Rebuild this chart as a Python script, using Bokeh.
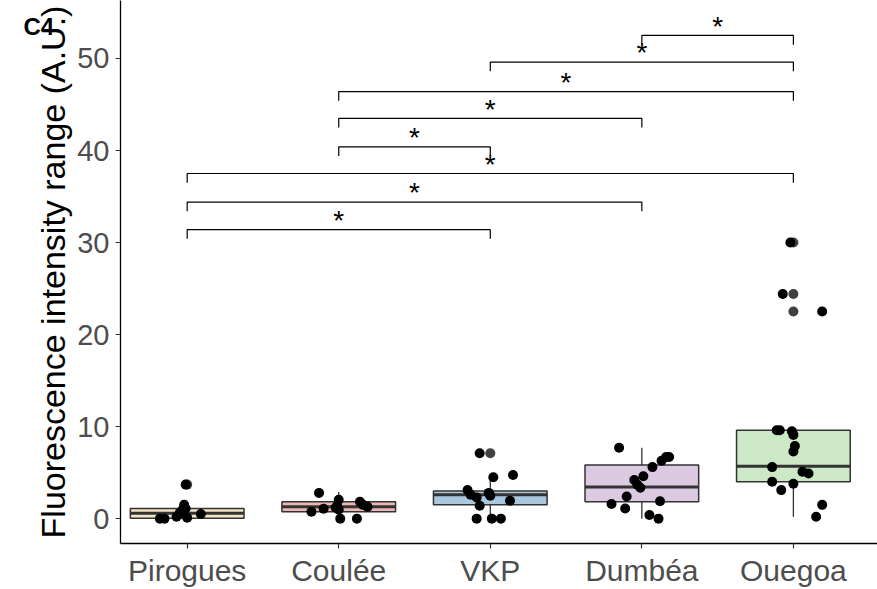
from bokeh.plotting import figure
from bokeh.models import Range1d, FixedTicker, Label
from bokeh.core.properties import value
from bokeh.embed import file_html
from bokeh.resources import INLINE

# ---- data ----
groups = ["Pirogues", "Coulée", "VKP", "Dumbéa", "Ouegoa"]
group_pos = [1, 2, 3, 4, 5]
fills = ["#F3E5C3", "#EBB8B3", "#A9C8E0", "#DCC9E2", "#CDE8C6"]

q1 = [0.05, 0.76, 1.5, 1.83, 4.0]
median = [0.6, 1.3, 2.6, 3.45, 5.7]
q3 = [1.1, 1.84, 3.0, 5.83, 9.6]
whisk_lo = [0.0, 0.0, 0.0, 0.0, 0.2]
whisk_hi = [1.3, 2.9, 4.75, 7.7, 9.7]

# outliers (group position, value)
out_x = [1, 3, 5, 5, 5]
out_y = [3.7, 7.1, 30.0, 24.4, 22.5]

# jittered observations
pts_x = [0.99, 0.82, 0.85, 0.93, 0.95, 0.98, 0.99, 1.0, 1.09, 0.97,
         1.87, 1.82, 1.90, 2.0, 1.99, 2.0, 2.01, 2.12, 2.14, 2.16, 2.19, 1.98,
         2.93, 3.02, 3.15, 2.85, 2.87, 2.91, 2.93, 2.99, 3.0, 3.13, 2.91, 3.01, 3.07,
         3.85, 3.80, 3.89, 3.90, 3.95, 3.97, 3.99, 4.01, 4.07, 4.13, 4.16, 4.18, 4.12, 4.05, 4.11,
         4.98, 4.93, 5.19, 4.89, 4.91, 4.99, 5.0, 5.01, 5.0, 4.86, 5.06, 5.10, 4.86, 4.92, 5.0, 5.19, 5.15]
pts_y = [3.7, 0.0, 0.0, 0.2, 0.6, 1.5, 1.1, 0.1, 0.5, 1.0,
         2.8, 0.76, 1.08, 2.05, 1.4, 0.97, 0.0, 0.0, 1.84, 1.5, 1.3, 1.2,
         7.1, 4.5, 4.75, 3.1, 2.6, 2.3, 1.4, 2.8, 2.5, 1.95, 0.0, 0.0, 0.0,
         7.7, 1.6, 1.1, 2.4, 4.2, 3.7, 3.35, 4.6, 5.6, 6.3, 6.7, 6.7, 1.9, 0.4, 0.0,
         30.0, 24.4, 22.5, 9.6, 9.6, 9.5, 9.1, 7.9, 7.3, 5.6, 5.1, 4.9, 4.0, 3.1, 3.8, 1.5, 0.2]

# significance brackets (group a, group b, height, label)
cmp_a = [1, 1, 1, 2, 2, 2, 3, 4]
cmp_b = [3, 4, 5, 3, 4, 5, 5, 5]
cmp_y = [31.4, 34.4, 37.5, 40.4, 43.5, 46.4, 49.6, 52.5]
cmp_lab = ["*"] * 8

y_ticks = [0, 10, 20, 30, 40, 50]

# ---- figure ----
p = figure(width=877, height=589, output_backend="svg", toolbar_location=None,
           x_range=Range1d(0.56, 5.555), y_range=Range1d(-2.7, 56.3),
           min_border_left=118, min_border_right=0, min_border_top=0, min_border_bottom=43)
p.outline_line_color = None
p.grid.visible = False
p.background_fill_color = "white"
p.border_fill_color = "white"

for ax in (p.xaxis, p.yaxis):
    ax.axis_line_color = "black"
    ax.axis_line_width = 1.3
    ax.major_tick_line_color = "#333333"
    ax.major_tick_line_width = 1.2
    ax.major_tick_out = 5
    ax.major_tick_in = 0
    ax.minor_tick_line_color = None
    ax.major_label_text_font = "Liberation Sans"
    ax.major_label_text_color = "#4D4D4D"

p.yaxis.major_label_text_font_size = "29px"
p.xaxis.major_label_text_font_size = "30px"
p.xaxis.ticker = FixedTicker(ticks=group_pos)
p.xaxis.major_label_overrides = {g: n for g, n in zip(group_pos, groups)}
p.xaxis.major_label_standoff = 5
p.yaxis.ticker = FixedTicker(ticks=y_ticks)
p.yaxis.major_label_standoff = 6
p.yaxis.axis_label = "Fluorescence intensity range (A.U.)"
p.yaxis.axis_label_text_font = "Liberation Sans"
p.yaxis.axis_label_text_font_size = "34px"
p.yaxis.axis_label_text_font_style = "normal"
p.yaxis.axis_label_text_color = "black"
p.yaxis.axis_label_standoff = 2

# whiskers
p.segment(x0=group_pos, y0=whisk_lo, x1=group_pos, y1=whisk_hi,
          line_color="#333333", line_width=1.3)
# boxes
p.vbar(x=group_pos, width=0.75, bottom=q1, top=q3, fill_color=fills,
       line_color="#333333", line_width=1.5)
# medians
p.segment(x0=[g - 0.375 for g in group_pos], y0=median,
          x1=[g + 0.375 for g in group_pos], y1=median,
          line_color="#333333", line_width=3)
# outliers
p.scatter(x=out_x, y=out_y, size=10, fill_color="#404040", line_color=None)
# observations
p.scatter(x=pts_x, y=pts_y, size=10, fill_color="black", line_color=None)

# brackets
bx = [[a, a, b, b] for a, b in zip(cmp_a, cmp_b)]
by = [[y - 1.0, y, y, y - 1.0] for y in cmp_y]
p.multi_line(xs=bx, ys=by, line_color="black", line_width=1.2)
p.text(x=[(a + b) / 2 for a, b in zip(cmp_a, cmp_b)], y=[y + 1.0 for y in cmp_y],
       text=cmp_lab, text_align="center", text_baseline="middle",
       text_font=value("Liberation Sans"), text_font_size="28px", text_color="black")

p.add_layout(Label(x=23, y=531, x_units="screen", y_units="screen", text="C4",
                   text_font="Liberation Sans", text_font_size="24px",
                   text_font_style="bold", text_color="black",
                   text_baseline="top", text_align="left"), "left")

open("out.html", "w").write(file_html(p, INLINE))
